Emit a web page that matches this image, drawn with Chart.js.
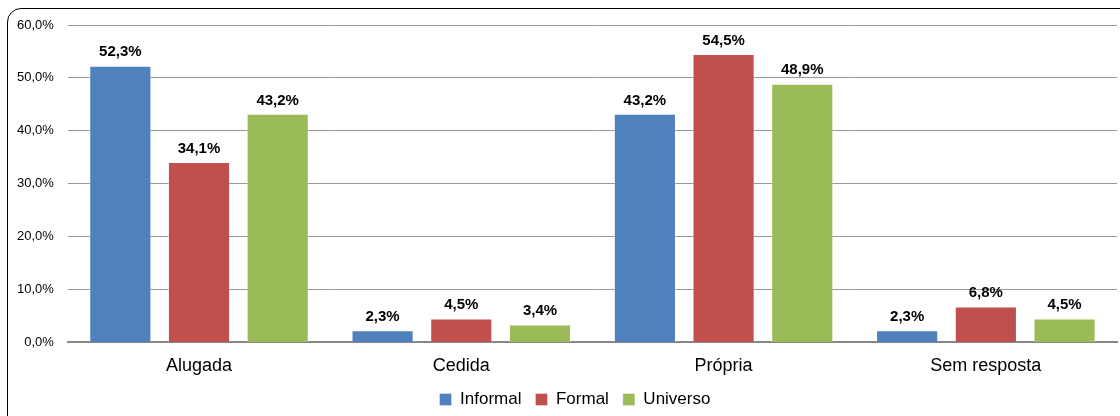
<!DOCTYPE html>
<html>
<head>
<meta charset="utf-8">
<script src="https://cdn.jsdelivr.net/npm/chart.js@4/dist/chart.umd.min.js"></script>
<style>
  html, body { margin: 0; padding: 0; background: #fff; }
  #wrap { position: relative; width: 1120px; height: 416px; overflow: hidden; }
  #frame {
    position: absolute; left: 7px; top: 8px; width: 1130px; height: 430px;
    border: 1.5px solid #000; border-radius: 14px; box-sizing: border-box;
  }
  #chart { position: absolute; left: 0; top: 0; }
</style>
</head>
<body>
<div id="wrap">
  <div id="frame"></div>
  <canvas id="chart" width="1120" height="416"></canvas>
</div>
<script>
// --- Data ---
const categories = ['Alugada', 'Cedida', 'Própria', 'Sem resposta'];
const informal = [52.3, 2.3, 43.2, 2.3];
const formal = [34.1, 4.5, 54.5, 6.8];
const universo = [43.2, 3.4, 48.9, 4.5];
const seriesNames = ['Informal', 'Formal', 'Universo'];
const seriesColors = ['#4F81BD', '#C0504D', '#9BBB59'];

const FONT = '"Liberation Sans", Arial, sans-serif';

function pct(v) {
    return v.toFixed(1).replace('.', ',') + '%';
}

// Draws the value above each bar
const valueLabels = {
    id: 'valueLabels',
    afterDatasetsDraw(chart) {
        const ctx = chart.ctx;
        ctx.save();
        ctx.font = 'bold 15px ' + FONT;
        ctx.fillStyle = '#000';
        ctx.textAlign = 'center';
        ctx.textBaseline = 'bottom';
        chart.data.datasets.forEach((ds, i) => {
            chart.getDatasetMeta(i).data.forEach((bar, j) => {
                ctx.fillText(pct(ds.data[j]), bar.x, bar.y - 6);
            });
        });
        ctx.restore();
    }
};

// Legend in the original sits a bit right of the canvas centre
const legendShift = {
    id: 'legendShift',
    afterLayout(chart) {
        chart.legend.left += 15;
        chart.legend.right += 15;
    }
};

const allSeries = [informal, formal, universo];

new Chart(document.getElementById('chart'), {
    type: 'bar',
    data: {
        labels: categories,
        datasets: allSeries.map((d, i) => ({
            label: seriesNames[i],
            data: d,
            backgroundColor: seriesColors[i],
            borderColor: 'rgba(255,255,255,0.35)',
            borderWidth: 1,
            categoryPercentage: 0.9,
            barPercentage: 0.79
        }))
    },
    options: {
        responsive: false,
        animation: false,
        layout: { padding: { left: 3, right: 3, top: 25, bottom: -2 } },
        plugins: {
            legend: {
                position: 'bottom',
                labels: {
                    boxWidth: 12,
                    boxHeight: 12,
                    padding: 14,
                    color: '#000',
                    font: { size: 17, family: FONT }
                }
            },
            tooltip: { enabled: false }
        },
        scales: {
            x: {
                // hidden tick marks only used as spacing below the axis
                grid: { display: false, drawTicks: true, tickLength: 13 },
                border: { color: '#868686', width: 2 },
                ticks: {
                    color: '#000',
                    padding: 0,
                    font: { size: 18, family: FONT }
                }
            },
            y: {
                min: 0,
                max: 60,
                border: { display: false },
                grid: { color: '#999', tickLength: 0 },
                ticks: {
                    stepSize: 10,
                    padding: 14,
                    color: '#000',
                    font: { size: 13, family: FONT },
                    callback: v => pct(v)
                }
            }
        }
    },
    plugins: [valueLabels, legendShift]
});
</script>
</body>
</html>
